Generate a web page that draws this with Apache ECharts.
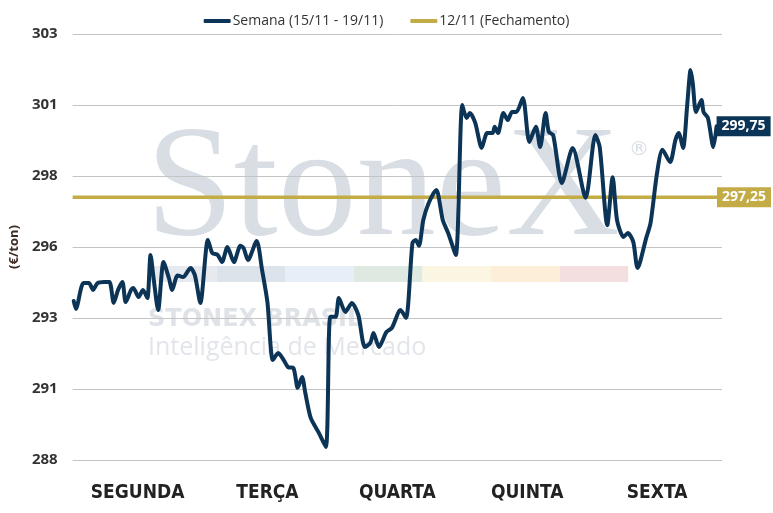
<!DOCTYPE html>
<html>
<head>
<meta charset="utf-8">
<script src="https://cdn.jsdelivr.net/npm/echarts@6/dist/echarts.min.js"></script>
<style>html,body{margin:0;padding:0;background:#fff}#c{width:773px;height:513px}</style>
</head>
<body>
<div id="c"></div>
<script>
// Categories (trading days)
const days = ['SEGUNDA', 'TERÇA', 'QUARTA', 'QUINTA', 'SEXTA'];
const SESSION_MIN = 600; // minutes per session shown

// [minute of session, price €/ton]
const segunda = [[5,293.60],[15,293.32],[50,294.23],[75,294.23],[95,293.99],[115,294.23],[145,294.27],[170,294.27],[190,293.53],[210,293.99],[230,294.27],[245,293.56],[270,293.99],[280,294.06],[305,293.74],[325,293.99],[345,293.70],[360,295.22],[375,294.34],[395,293.28],[420,294.97],[445,294.40],[460,293.99],[485,294.50],[510,294.44],[545,294.76],[565,294.50],[590,293.53]];
const terca = [[25,295.75],[45,295.29],[70,295.22],[90,294.97],[115,295.50],[145,294.97],[175,295.54],[190,295.46],[210,295.04],[250,295.71],[275,294.70],[300,293.55],[325,291.52],[350,291.77],[375,291.52],[395,291.27],[420,291.24],[440,290.54],[460,290.92],[475,290.36],[500,289.48],[535,288.99],[570,288.46],[590,293.04]];
const quarta = [[15,293.04],[30,293.70],[60,293.21],[90,293.53],[120,293.10],[150,291.98],[175,292.12],[190,292.47],[215,291.98],[250,292.51],[275,292.65],[315,293.28],[340,293.00],[370,295.64],[385,295.75],[400,295.54],[420,296.45],[445,297.05],[480,297.51],[510,296.45],[535,295.99],[570,295.22]];
const quinta = [[0,300.50],[20,300.04],[35,300.22],[60,299.87],[90,298.99],[115,299.51],[140,299.51],[150,299.73],[165,299.51],[190,300.22],[210,299.97],[230,300.25],[250,300.25],[280,300.75],[310,299.20],[340,299.73],[360,299.02],[385,300.22],[400,299.55],[420,299.44],[460,297.75],[510,298.99],[570,297.23]];
const sexta = [[15,299.44],[35,299.02],[70,296.27],[95,297.96],[115,296.45],[145,295.85],[165,295.99],[190,295.68],[210,294.76],[250,295.82],[270,296.35],[300,298.11],[325,298.92],[360,298.49],[385,299.27],[400,299.51],[420,298.99],[440,300.57],[455,301.73],[465,301.27],[480,300.25],[505,300.68],[515,300.25],[535,300.04],[560,299.02],[575,299.75]];

const fechamento = 297.25; // 12/11 close
const seriesNames = ['Semana (15/11 - 19/11)', '12/11 (Fechamento)'];
const yMin = 288, yMax = 303, yStep = 2.5;

const week = [segunda, terca, quarta, quinta, sexta];
const weekData = week.flatMap((d, i) => d.map(p => [i * SESSION_MIN + p[0], p[1]]));
const totalMin = days.length * SESSION_MIN;

const NAVY = '#0c3456', GOLD = '#c3ab46';
const fmt = v => v.toFixed(2).replace('.', ',');

const chart = echarts.init(document.getElementById('c'));
const bandColors = ['#e6e9ed','#dde3ea','#e7eef7','#dde9e1','#fbf6e2','#fdeed8','#f3dfdf'];
const band = bandColors.map((c, i) => ({
  type: 'rect', z: -1, silent: true,
  shape: { x: 148 + i * 68.6, y: 266, width: 68.6, height: 16 },
  style: { fill: c }
}));

chart.setOption({
  animation: false,
  backgroundColor: '#fff',
  grid: { left: 72, right: 51, top: 34, bottom: 53 },
  legend: {
    top: 9, left: 'center',
    icon: 'roundRect', itemWidth: 27, itemHeight: 4, itemGap: 27,
    textStyle: { fontFamily: 'Open Sans', fontSize: 14, color: '#333', padding: [0, 0, 0, -3] },
    data: seriesNames
  },
  graphic: band.concat([
    { type: 'text', z: -1, silent: true, x: 146, y: 192,
      style: { text: 'StoneX', font: '158px "Liberation Serif"', fill: '#d9dee5', verticalAlign: 'middle' } },
    { type: 'text', z: -1, silent: true, x: 629, y: 150,
      style: { text: '®', font: '20px "DejaVu Sans"', fill: '#d9dee5', verticalAlign: 'middle' } },
    { type: 'text', z: -1, silent: true, x: 148, y: 320,
      style: { text: 'STONEX BRASIL', font: 'bold 24px "DejaVu Sans"', fill: '#dfe3e8', verticalAlign: 'middle' } },
    { type: 'text', z: -1, silent: true, x: 148, y: 348,
      style: { text: 'Inteligência de Mercado', font: '25px "Open Sans"', fill: '#e2e5ea', verticalAlign: 'middle' } }
  ]),
  xAxis: [
    { type: 'category', data: days, boundaryGap: true,
      axisLine: { show: false }, axisTick: { show: false }, splitLine: { show: false },
      axisLabel: { margin: 24, fontFamily: "'Liberation Sans Narrow','DejaVu Sans Condensed',Roboto,sans-serif",
                   fontSize: 19, fontWeight: 'bold', color: '#222' } },
    { type: 'value', min: 0, max: totalMin, show: false }
  ],
  yAxis: {
    type: 'value', min: yMin, max: yMax, interval: yStep,
    name: '(€/ton)', nameLocation: 'middle', nameGap: 48, nameRotate: 90,
    nameTextStyle: { fontFamily: 'Open Sans', fontSize: 13, fontWeight: 'bold', color: '#3d2c26' },
    axisLine: { show: false }, axisTick: { show: false },
    axisLabel: { margin: 15, fontFamily: 'Open Sans', fontSize: 15, fontWeight: 'bold', color: '#333',
                 formatter: v => String(Math.round(v)) },
    splitLine: { lineStyle: { color: '#c4c4c4', width: 1 } }
  },
  series: [
    { name: seriesNames[0], type: 'line', xAxisIndex: 1, data: weekData,
      smooth: 0.25, showSymbol: false, symbol: 'none', color: NAVY, z: 4,
      lineStyle: { width: 4, color: NAVY, cap: 'round', join: 'round' },
      endLabel: { show: true, distance: 0, formatter: p => fmt(p.value[1]),
                  backgroundColor: NAVY, color: '#fff', fontFamily: 'Open Sans', fontWeight: 'bold',
                  fontSize: 14, padding: [3, 5, 3, 5] } },
    { name: seriesNames[1], type: 'line', xAxisIndex: 1,
      data: [[0, fechamento], [totalMin, fechamento]],
      showSymbol: false, symbol: 'none', color: GOLD, z: 3,
      lineStyle: { width: 3.6, color: GOLD },
      endLabel: { show: true, distance: 0, offset: [-5, 0], formatter: p => fmt(p.value[1]),
                  backgroundColor: GOLD, color: '#fff', fontFamily: 'Open Sans', fontWeight: 'bold',
                  fontSize: 14, padding: [3, 5, 3, 5] } }
  ]
});
</script>
</body>
</html>
